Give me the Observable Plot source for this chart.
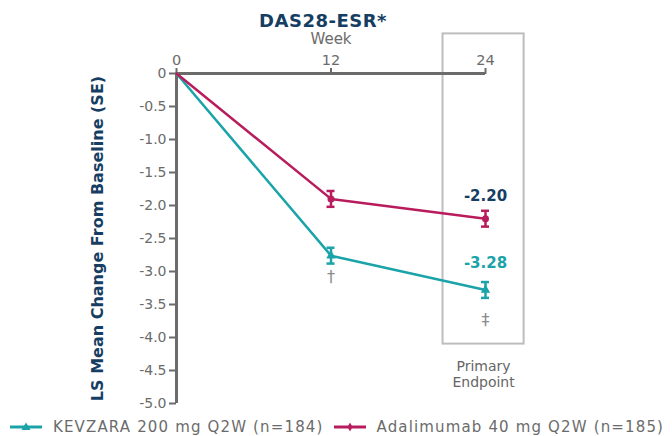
<!DOCTYPE html>
<html><head><meta charset="utf-8">
<script src="https://cdn.jsdelivr.net/npm/d3@7"></script>
<script src="https://cdn.jsdelivr.net/npm/@observablehq/plot@0.6"></script>
<style>
body{margin:0;background:#fff;font-family:"DejaVu Sans",sans-serif;}
#wrap{position:relative;width:672px;height:436px;}
#title{position:absolute;left:0;width:646px;top:10px;text-align:center;font-weight:700;font-size:18px;letter-spacing:0.5px;color:#163e63;}
#legend{position:absolute;left:0;top:418px;display:flex;align-items:center;font-size:15px;letter-spacing:1.15px;color:#6b6b6b;white-space:nowrap;}
.li{display:flex;align-items:center;}
.li svg{display:block;}
</style></head>
<body><div id="wrap"><div id="chart"></div><div id="title">DAS28-ESR*</div><div id="legend"></div></div>
<script>
const weeks = [0, 12, 24];
const seriesNames = ["KEVZARA 200 mg Q2W (n=184)", "Adalimumab 40 mg Q2W (n=185)"];
const kevzaraMean = [0, -2.76, -3.28];
const kevzaraSE = [0, 0.12, 0.12];
const adalimumabMean = [0, -1.90, -2.20];
const adalimumabSE = [0, 0.12, 0.12];
const colors = ["#1aa3a8", "#b81c5c"];
const yTicks = [0, -0.5, -1, -1.5, -2, -2.5, -3, -3.5, -4, -4.5, -5];
const valueLabels = ["-3.28", "-2.20"];
const footnotes = [{w: 12, s: "†"}, {w: 24, s: "‡"}];

const rows = [];
weeks.forEach((w, i) => {
  rows.push({series: seriesNames[0], week: w, mean: kevzaraMean[i], se: kevzaraSE[i]});
  rows.push({series: seriesNames[1], week: w, mean: adalimumabMean[i], se: adalimumabSE[i]});
});
const errRows = rows.filter(d => d.se > 0);
const gray = "#6b6b6b";
const font = "DejaVu Sans, sans-serif";

const plot = Plot.plot({
  width: 672, height: 414,
  marginLeft: 176, marginRight: 187, marginTop: 73, marginBottom: 11,
  style: {fontFamily: font, fontSize: "14px", color: gray, overflow: "visible"},
  x: {domain: [0, 24], label: null},
  y: {domain: [-5, 0], label: null},
  color: {domain: seriesNames, range: colors},
  marks: [
    Plot.rect([{x1: 20.7, x2: 27, y1: -4.1, y2: 0.6}], {x1: "x1", x2: "x2", y1: "y1", y2: "y2", fill: "none", stroke: "#bdbdbd", strokeWidth: 2, clip: false}),
    Plot.axisX({anchor: "top", ticks: weeks, tickSize: 6, tickPadding: 3, stroke: gray, strokeWidth: 2, fill: gray, fontSize: 14.5, label: null}),
    Plot.axisY({anchor: "left", ticks: yTicks, tickFormat: d => d === 0 ? "0" : d3.format(".1f")(d).replace("−", "-"), tickSize: 7, tickPadding: 3, stroke: gray, strokeWidth: 2, fill: gray, fontSize: 14, label: null}),
    Plot.ruleY([0], {x1: 0, x2: 24, stroke: gray, strokeWidth: 3}),
    Plot.ruleX([0], {y1: -5, y2: 0, stroke: gray, strokeWidth: 3}),
    Plot.text(["Week"], {x: 12, y: 0, dy: -34, text: d => d, fill: gray, fontSize: 15}),
    Plot.line(rows, {x: "week", y: "mean", stroke: "series", strokeWidth: 2.5}),
    Plot.ruleX(errRows, {x: "week", y1: d => d.mean - d.se, y2: d => d.mean + d.se, stroke: "series", strokeWidth: 2.5}),
    Plot.ruleY(errRows, {x1: "week", x2: "week", y: d => d.mean - d.se, stroke: "series", strokeWidth: 2.5, insetLeft: -4, insetRight: -4}),
    Plot.ruleY(errRows, {x1: "week", x2: "week", y: d => d.mean + d.se, stroke: "series", strokeWidth: 2.5, insetLeft: -4, insetRight: -4}),
    Plot.dot(errRows.filter(d => d.series === seriesNames[0]), {x: "week", y: "mean", fill: colors[0], symbol: "triangle", r: 3.5}),
    Plot.dot(errRows.filter(d => d.series === seriesNames[1]), {x: "week", y: "mean", fill: colors[1], symbol: "circle", r: 3.5}),
    Plot.text([{w: 24, t: valueLabels[0]}], {x: "w", y: d => -2.87, text: "t", fill: colors[0], fontWeight: 700, fontSize: 15, fontFamily: font}),
    Plot.text([{w: 24, t: valueLabels[1]}], {x: "w", y: d => -1.86, text: "t", fill: "#163e63", fontWeight: 700, fontSize: 15, fontFamily: font}),
    Plot.text(footnotes, {x: "w", y: d => d.w === 12 ? -3.08 : -3.74, text: "s", fill: "#8a8a8a", fontSize: 16}),
    Plot.text(["Primary\nEndpoint"], {x: 23.85, y: -4.55, text: d => d, fill: "#666", fontSize: 14, lineHeight: 1.15}),
    Plot.text(["LS Mean Change From Baseline (SE)"], {x: 0, y: -2.5, dx: -79, rotate: -90, text: d => d, fill: "#163e63", fontWeight: 700, fontSize: 16, fontFamily: font})
  ]
});
document.getElementById("chart").appendChild(plot);

const legend = document.getElementById("legend");
seriesNames.forEach((name, i) => {
  const item = document.createElement("div");
  item.className = "li";
  item.style.marginLeft = "10px";
  const marker = i === 0
    ? `<polygon points="16,2.5 20.5,10 11.5,10" fill="${colors[i]}"/>`
    : `<polygon points="16,2.5 18.5,7 16,11.5 13.5,7" fill="${colors[i]}"/>`;
  item.innerHTML = `<svg width="32" height="14"><line x1="0" y1="7" x2="32" y2="7" stroke="${colors[i]}" stroke-width="3"/>${marker}</svg><span style="margin-left:11px">${name}</span>`;
  legend.appendChild(item);
});
</script></body></html>
